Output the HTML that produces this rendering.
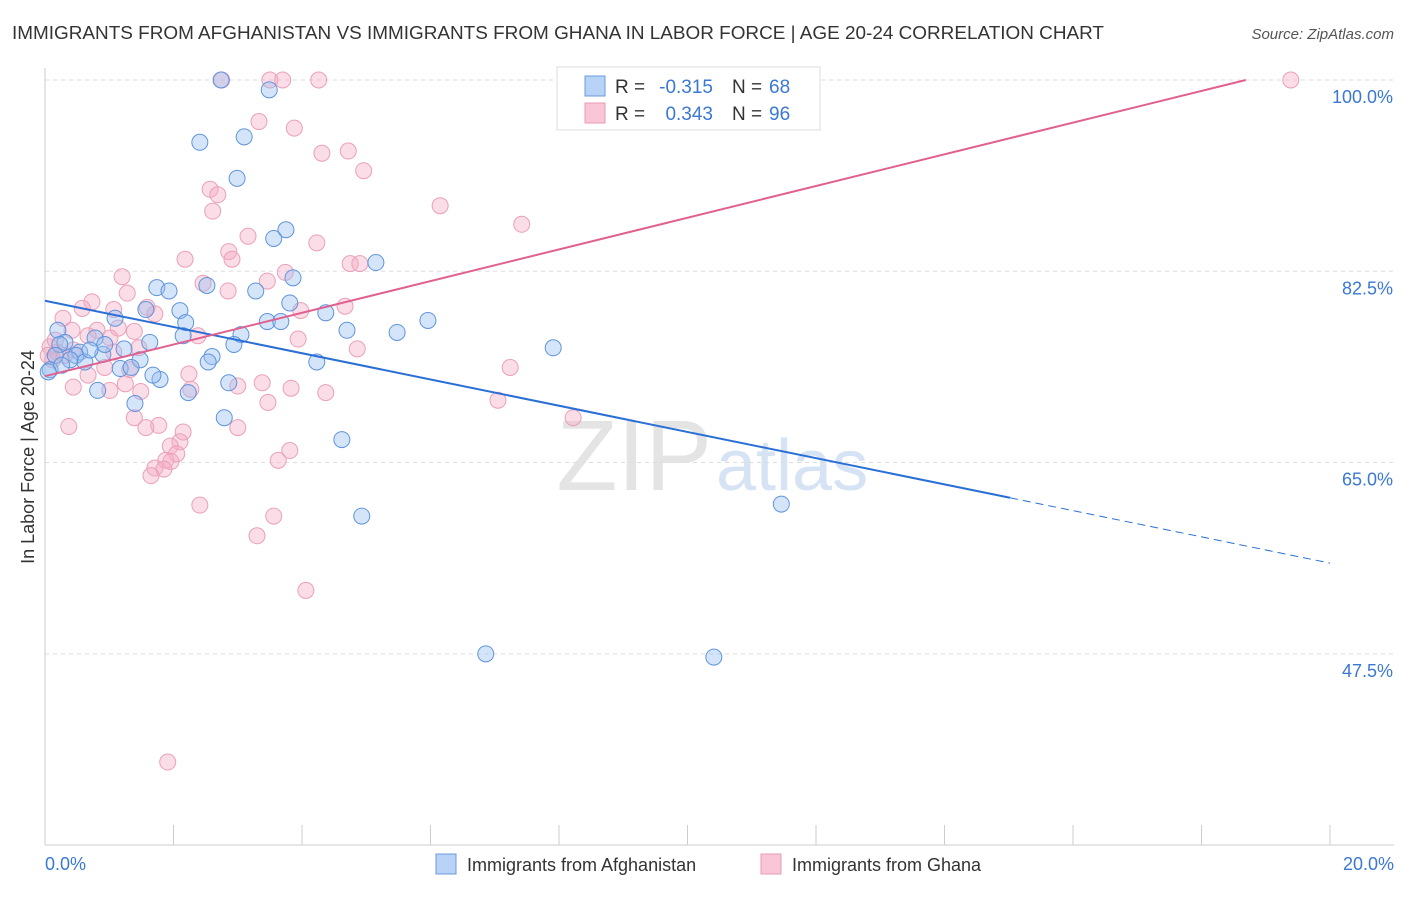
<!DOCTYPE html>
<html><head><meta charset="utf-8"><style>
body{margin:0;background:#fff;font-family:"Liberation Sans",sans-serif;}
svg text{font-family:"Liberation Sans",sans-serif;}
</style></head><body>
<svg id="chart" width="1406" height="892" xmlns="http://www.w3.org/2000/svg">
<text x="12" y="39" font-size="18" fill="#333" textLength="1092" lengthAdjust="spacingAndGlyphs">IMMIGRANTS FROM AFGHANISTAN VS IMMIGRANTS FROM GHANA IN LABOR FORCE | AGE 20-24 CORRELATION CHART</text>
<text x="1394" y="39" font-size="15" fill="#555" font-style="italic" text-anchor="end">Source: ZipAtlas.com</text>
<text x="712" y="490" font-size="100" fill="#e4e4e4" text-anchor="end" font-family="Liberation Serif">ZIP</text>
<text x="716" y="490" font-size="72" fill="#d6e3f5">atlas</text>
<g id="grid"></g>
<g id="axes"></g>
<g id="pts"></g>
<g id="lines"></g>
<text transform="translate(34,457) rotate(-90)" font-size="18" fill="#333" text-anchor="middle">In Labor Force | Age 20-24</text>
<text x="45" y="870" font-size="18" fill="#3a78d4">0.0%</text>
<text x="1394" y="870" font-size="18" fill="#3a78d4" text-anchor="end">20.0%</text>
<g>
<rect x="557" y="67" width="263" height="63" fill="#fff" stroke="#ddd"/>
<rect x="585" y="76" width="20" height="20" fill="#b8d3f5" stroke="#6a9be0"/>
<rect x="585" y="103" width="20" height="20" fill="#f8c6d6" stroke="#e99ab5"/>
<text x="615" y="93" font-size="19" fill="#333">R =</text>
<text x="713" y="93" font-size="19" fill="#3a78d4" text-anchor="end">-0.315</text>
<text x="732" y="93" font-size="19" fill="#333">N =</text>
<text x="769" y="93" font-size="19" fill="#3a78d4">68</text>
<text x="615" y="120" font-size="19" fill="#333">R =</text>
<text x="713" y="120" font-size="19" fill="#3a78d4" text-anchor="end">0.343</text>
<text x="732" y="120" font-size="19" fill="#333">N =</text>
<text x="769" y="120" font-size="19" fill="#3a78d4">96</text>
</g>
<g>
<rect x="436" y="854" width="20" height="20" fill="#b8d3f5" stroke="#6a9be0"/>
<text x="467" y="871" font-size="18" fill="#333">Immigrants from Afghanistan</text>
<rect x="761" y="854" width="20" height="20" fill="#f8c6d6" stroke="#e99ab5"/>
<text x="792" y="871" font-size="18" fill="#333">Immigrants from Ghana</text>
</g>
</svg>
<script>
const yTicks=[100,82.5,65,47.5];
const blueX=[2.74,3.49,2.41,3.10,2.99,3.75,3.56,5.15,3.86,2.52,1.74,1.93,3.28,3.81,4.37,2.10,1.57,1.09,2.19,3.46,3.67,5.96,4.70,5.48,3.05,2.15,1.63,2.94,1.23,7.91,0.20,0.31,0.78,0.54,0.90,0.48,0.62,2.60,2.54,4.23,1.48,1.17,1.34,1.79,1.68,2.86,2.23,0.82,1.40,2.79,4.62,4.93,11.46,6.86,10.41,0.08,0.39,0.23,0.70,0.93,0.16,0.26,0.05];
const blueY=[100,99.1,94.3,94.8,91.0,86.3,85.5,83.3,81.9,81.2,81.0,80.7,80.7,79.6,78.7,78.9,79.0,78.2,77.8,77.9,77.9,78.0,77.1,76.9,76.7,76.6,76.0,75.8,75.4,75.5,77.1,76.0,76.4,75.1,74.9,74.8,74.2,74.7,74.2,74.2,74.4,73.6,73.7,72.6,73.0,72.3,71.4,71.6,70.4,69.1,67.1,60.1,61.2,47.5,47.2,73.5,74.4,75.8,75.3,75.8,74.8,73.9,73.3];
const pinkX=[2.75,3.50,3.70,4.26,9.62,19.39,3.33,3.88,4.31,4.72,4.96,2.57,2.69,2.61,6.15,7.42,3.16,4.23,2.86,2.91,2.18,4.75,4.90,1.20,3.46,3.74,2.46,2.85,1.28,0.73,1.59,4.67,0.58,1.07,1.71,3.98,0.28,1.14,0.81,1.39,0.42,2.38,3.94,1.01,0.67,1.46,4.86,1.07,0.44,0.19,0.31,7.24,0.93,1.32,2.24,0.67,3.38,3.00,1.25,2.27,3.83,4.37,0.44,1.01,1.49,3.47,7.05,8.22,1.39,1.77,3.00,0.37,1.57,2.15,2.10,1.95,3.81,2.05,1.88,1.96,3.63,1.71,1.85,1.65,2.41,3.56,3.30,4.06,1.91,0.08,0.16,0.05,0.12];
const pinkY=[100,100,100,100,100,100,96.2,95.6,93.3,93.5,91.7,90.0,89.5,88.0,88.5,86.8,85.7,85.1,84.3,83.6,83.6,83.2,83.2,82.0,81.6,82.4,81.4,80.7,80.5,79.7,79.2,79.3,79.1,79.0,78.6,78.9,78.2,77.3,77.1,77.0,77.1,76.6,76.3,76.4,76.6,75.5,75.4,75.1,75.3,75.1,74.8,73.7,73.7,73.5,73.1,73.0,72.3,72.0,72.2,71.7,71.8,71.4,71.9,71.6,71.5,70.5,70.7,69.1,69.1,68.4,68.2,68.3,68.2,67.8,66.9,66.5,66.1,65.8,65.2,65.1,65.2,64.5,64.4,63.8,61.1,60.1,58.3,53.3,37.6,75.6,76.2,74.8,74.4];
const blueTrend=[79.8,-1.2]; // intercept, slope
const pinkTrend=[72.9,1.45];
const sx=v=>45+v*64.25, sy=v=>80+(100-v)*10.93;
const NS='http://www.w3.org/2000/svg';
function mk(t,a,p){const e=document.createElementNS(NS,t);for(const k in a)e.setAttribute(k,a[k]);p.appendChild(e);return e;}
const grid=document.getElementById('grid'),axes=document.getElementById('axes');
yTicks.forEach(t=>{
 const l=mk('line',{x1:45,x2:1394,y1:sy(t),y2:sy(t),stroke:'#ddd','stroke-dasharray':'4,4'},grid);
 
 
 const tx=mk('text',{x:1393,y:sy(t)+23,'font-size':18,fill:'#3a78d4','text-anchor':'end'},axes);
 tx.textContent=t.toFixed(1)+'%';
 
 
});
mk('line',{x1:45,x2:45,y1:68,y2:845,stroke:'#ccc'},axes);
mk('line',{x1:45,x2:1394,y1:845,y2:845,stroke:'#ccc'},axes);
for(let i=0;i<=10;i++){const t=mk('line',{x1:sx(i*2),x2:sx(i*2),y1:825,y2:845,stroke:'#ccc'},axes);
 
 }
const pts=document.getElementById('pts');
pinkX.forEach((x,i)=>{const c=mk('circle',{cx:sx(x),cy:sy(pinkY[i]),r:8,fill:'rgba(245,170,195,0.4)',stroke:'#eaa0b9','stroke-width':1},pts);
 
 });
blueX.forEach((x,i)=>{const c=mk('circle',{cx:sx(x),cy:sy(blueY[i]),r:8,fill:'rgba(150,190,240,0.4)',stroke:'#5f94dc','stroke-width':1},pts);
 
 });
const lines=document.getElementById('lines');
const bl=mk('line',{x1:sx(0),y1:sy(blueTrend[0]),x2:sx(15.02),y2:sy(blueTrend[0]+blueTrend[1]*15.02),stroke:'#2a6fd6','stroke-width':2},lines);


const bd=mk('line',{x1:sx(15.02),y1:sy(blueTrend[0]+blueTrend[1]*15.02),x2:sx(20),y2:sy(blueTrend[0]+blueTrend[1]*20),stroke:'#2a6fd6','stroke-width':1,'stroke-dasharray':'8,5'},lines);


const xe=(100-pinkTrend[0])/pinkTrend[1];
const pl=mk('line',{x1:sx(0),y1:sy(pinkTrend[0]),x2:sx(xe),y2:sy(100),stroke:'#e06090','stroke-width':2},lines);


</script>
</body></html>
